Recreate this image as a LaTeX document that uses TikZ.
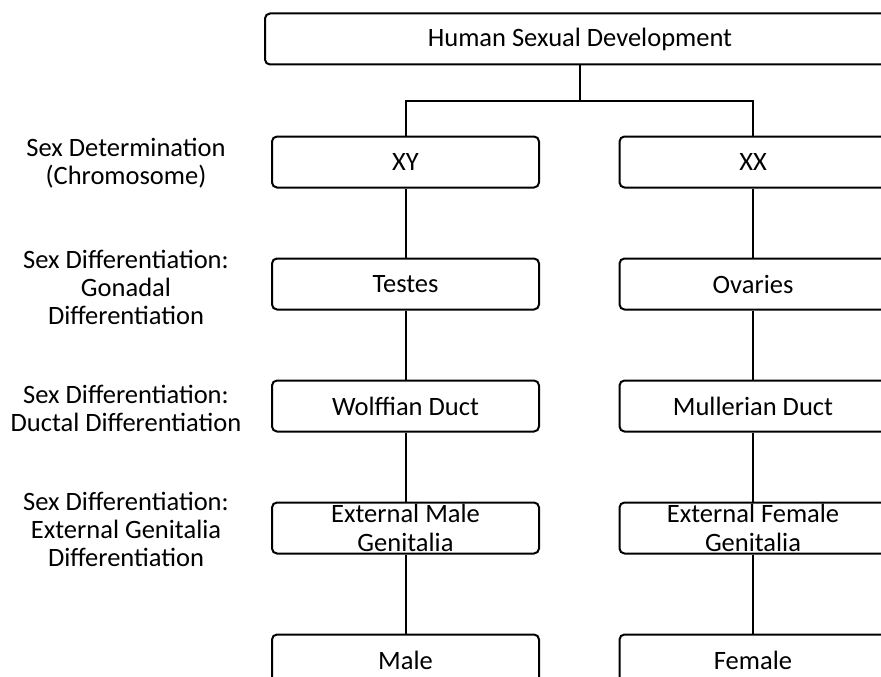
\documentclass[tikz,border=0pt]{standalone}
\usepackage{fontspec}
\setmainfont{Carlito}
\begin{document}
\begin{tikzpicture}[x=1pt,y=-1pt,
 box/.style={draw,line width=2pt,rounded corners=5pt,minimum width=267pt,minimum height=51pt,inner sep=0pt,font=\fontsize{26.5}{28.5}\selectfont,align=center},
 stage/.style={align=center,font=\fontsize{26.5}{28}\selectfont},
 link/.style={line width=2pt}]
 \clip (0,0) rectangle (881,677);
 \path
 (126,163) node[stage] (det) {Sex Determination\\(Chromosome)} % <<< labels
 (126,287) node[stage] (gon) {Sex Differentiation:\\Gonadal\\Differentiation}
 (126,408) node[stage] (duct) {Sex Differentiation:\\Ductal Differentiation}
 (126,529) node[stage] (gen) {Sex Differentiation:\\External Genitalia\\Differentiation};
 \path
 (580,39) node[box,minimum width=630pt] (top) {Human Sexual Development} % <<< boxes
 (580,101) coordinate (split)
 (405.5,162) node[box] (XY) {XY}
 ++(0:347.5) node[box] (XX) {XX}
 (405.5,284) node[box] (testes) {Testes}
 ++(0:347.5) node[box] (ovaries) {Ovaries}
 (405.5,406) node[box] (wolff) {Wolffian Duct}
 ++(0:347.5) node[box] (muller) {Mullerian Duct}
 (405.5,528) node[box,label={[box,draw=none,minimum width=0pt]center:External Male\\Genitalia}] (extM) {}
 ++(0:347.5) node[box,label={[box,draw=none,minimum width=0pt]center:External Female\\Genitalia}] (extF) {}
 (405.5,660) node[box] (male) {Male}
 ++(0:347.5) node[box] (female) {Female};
 \draw[link] (top.south)--(split);
 \draw[link] (split)-|(XY.north);
 \draw[link] (split)-|(XX.north);
 \draw[link] (XY)--(testes);
 \draw[link] (testes)--(wolff);
 \draw[link] (wolff)--(extM);
 \draw[link] (extM)--(male);
 \draw[link] (XX)--(ovaries);
 \draw[link] (ovaries)--(muller);
 \draw[link] (muller)--(extF);
 \draw[link] (extF)--(female);
\end{tikzpicture}
\end{document}
